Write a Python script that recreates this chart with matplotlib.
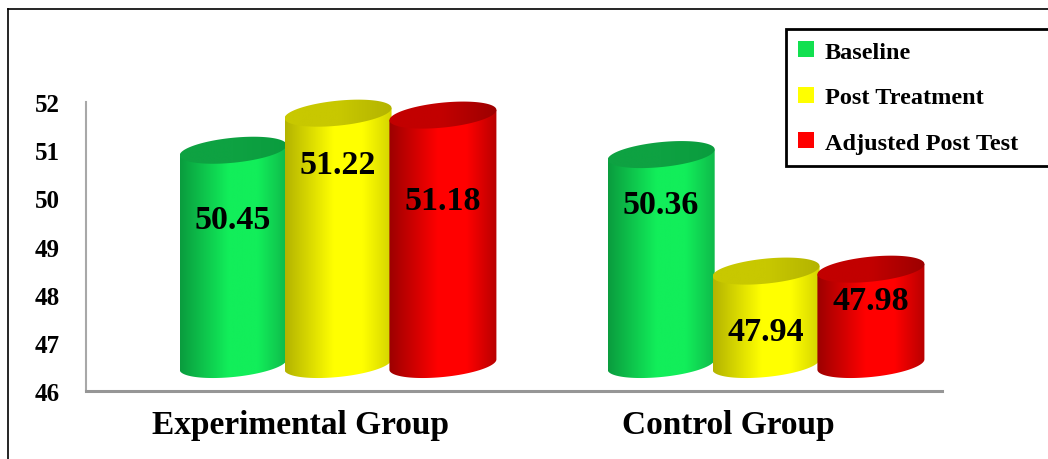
import numpy as np
import matplotlib
matplotlib.use('Agg')
import matplotlib.pyplot as plt
from matplotlib.patches import Polygon, Patch
from matplotlib.colors import LinearSegmentedColormap
from matplotlib.lines import Line2D

# data
groups = ['Experimental Group', 'Control Group']
series = ['Baseline', 'Post Treatment', 'Adjusted Post Test']
baseline = [50.45, 50.36]
post_treatment = [51.22, 47.94]
adjusted_post = [51.18, 47.98]
yticks = [46, 47, 48, 49, 50, 51, 52]

# styling: (left edge, bright, right edge, top)
shades = [
    ('#0a9c3e', '#12ee5a', '#0fb84a', '#0ea242'),
    ('#b3b300', '#ffff00', '#d2d200', '#c8c800'),
    ('#9c0000', '#ff0000', '#b80000', '#c20000'),
]
legend_colors = ['#12e050', '#ffff00', '#ff0000']
# label drop below the bar value (data units), by group then series
label_drop = [[0.88, 0.51, 1.23], [0.48, 0.71, 0.11]]

plt.rcParams['font.family'] = 'Liberation Serif'
plt.rcParams['font.weight'] = 'bold'

W, H = 1048, 460
fig = plt.figure(figsize=(W / 100, H / 100), dpi=100)
ax_l, ax_b, ax_w, ax_h = 0.0821, 0.1478, 0.8168, 0.6804
ax = fig.add_axes([ax_l, ax_b, ax_w, ax_h])
xlim = (-0.5, 1.5)
ylim = (46, 52.5)

px_x = ax_w * W / (xlim[1] - xlim[0])
px_y = ax_h * H / (ylim[1] - ylim[0])

depth_dx = 38 / px_x     # 3d depth shift of cylinders
depth_dy = 26.5 / px_y
width = 0.25
step = 0.245
a = width / 2
b = 12.5 / px_y
shear = 0.096 * px_x / px_y
grad = np.linspace(0, 1, 256).reshape(1, -1)


def cylinder(xc, base, top, sh, z):
    t = np.linspace(np.pi, 2 * np.pi, 120)
    pts = [(xc + a * np.cos(v), base + b * np.sin(v) + shear * a * np.cos(v)) for v in t]
    pts += [(xc + a, top + shear * a), (xc - a, top - shear * a)]
    body = Polygon(pts, closed=True, transform=ax.transData, facecolor='none', edgecolor='none')
    cmap = LinearSegmentedColormap.from_list('b', [(0, sh[0]), (0.45, sh[1]), (0.72, sh[1]), (1, sh[2])])
    im = ax.imshow(grad, cmap=cmap, aspect='auto', zorder=z,
                   extent=(xc - a, xc + a, base - 2 * b - shear * a, top + shear * a))
    im.set_clip_path(body)

    tt = np.linspace(0, 2 * np.pi, 200)
    tpts = np.column_stack([xc + a * np.cos(tt), top + b * np.sin(tt) + shear * a * np.cos(tt)])
    cap = Polygon(tpts, closed=True, transform=ax.transData, facecolor='none', edgecolor='none')
    cmap2 = LinearSegmentedColormap.from_list('t', [(0, sh[3]), (0.5, sh[3]), (1, sh[0])])
    im2 = ax.imshow(grad, cmap=cmap2, aspect='auto', zorder=z + 0.5,
                    extent=(xc - a, xc + a, top - 2 * b - shear * a, top + 2 * b + shear * a))
    im2.set_clip_path(cap)


values = [baseline, post_treatment, adjusted_post]
z = 2
for g in range(len(groups)):
    for i in range(len(series)):
        v = values[i][g]
        xc = g + depth_dx + (i - 1) * step
        cylinder(xc, ylim[0] + depth_dy, v + depth_dy, shades[i], z)
        ax.text(xc, v - label_drop[g][i], f'{v:.2f}', ha='center', va='center',
                fontsize=24.5, fontweight='bold', zorder=50)
        z += 1

ax.set_xlim(*xlim)
ax.set_ylim(*ylim)
ax.set_yticks(yticks)
ax.set_xticks(range(len(groups)), groups)
ax.tick_params(axis='y', length=0, pad=19, labelsize=18)
ax.tick_params(axis='x', length=0, pad=13, labelsize=24)
for s in ['top', 'right']:
    ax.spines[s].set_visible(False)
ax.spines['left'].set_bounds(46, 52)
ax.spines['left'].set_color('#a8a8a8')
ax.spines['left'].set_linewidth(1.5)
ax.spines['bottom'].set_color('#969696')
ax.spines['bottom'].set_linewidth(2.2)

# legend box runs past the right edge of the figure, as in the original
handles = [Patch(facecolor=c, edgecolor='none') for c in legend_colors]
leg = fig.legend(handles, series, loc='upper left', mode='expand',
                 bbox_to_anchor=(786 / W, 1 - 162 / H, 320 / W, 132 / H),
                 bbox_transform=fig.transFigure, fancybox=False, edgecolor='black',
                 framealpha=1, borderaxespad=0, handlelength=0.65, handleheight=0.65,
                 handletextpad=0.45, labelspacing=0.98, borderpad=0.5,
                 prop=dict(size=17.5, weight='bold', family='Liberation Serif'))
leg.get_frame().set_linewidth(2)

# outer frame (only left and top visible)
x0, y0 = 8 / W, 1 - 10 / H
fig.add_artist(Line2D([x0, x0], [0, y0], transform=fig.transFigure, color='black', lw=1.2))
fig.add_artist(Line2D([x0, 1], [y0, y0], transform=fig.transFigure, color='black', lw=1.2))

plt.savefig('out.png', dpi=100)
